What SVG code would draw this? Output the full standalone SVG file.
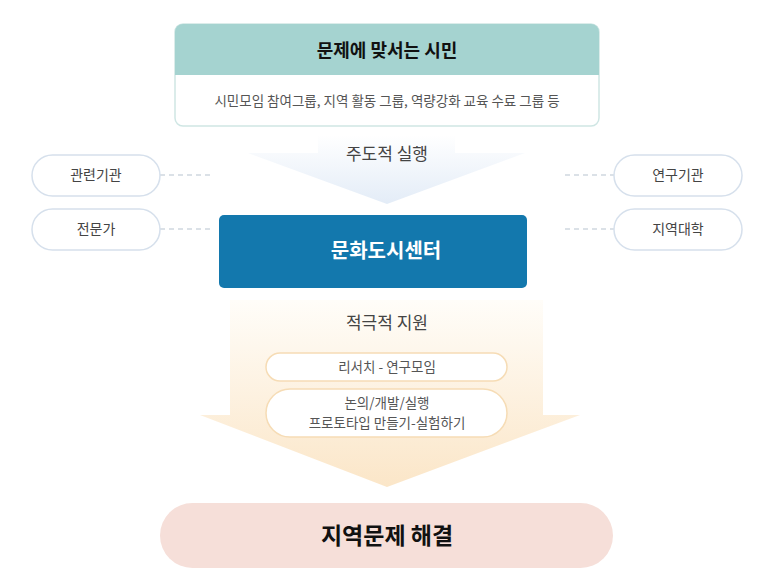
<svg xmlns="http://www.w3.org/2000/svg" width="773" height="575" viewBox="0 0 773 575">
<defs>
<linearGradient id="gb" x1="0" y1="0" x2="0" y2="1"><stop offset="0" stop-color="#ffffff"/><stop offset="1" stop-color="#e3ecf7"/></linearGradient>
<linearGradient id="go" x1="0" y1="0" x2="0" y2="1"><stop offset="0" stop-color="#fffdf9"/><stop offset="1" stop-color="#fbe6c8"/></linearGradient>
<style>
text{font-family:"Noto Sans CJK KR","Noto Sans",sans-serif;text-anchor:middle}
.side rect{fill:#fff;stroke:#d6e0ec;stroke-width:1.5}
.side text{font-size:14px;fill:#444}
.in rect{fill:#fff;stroke:#f6dcb5;stroke-width:1.5}
.in text{font-size:13.5px;fill:#555}
.dash{stroke:#b8c4d0;stroke-width:1.2;stroke-dasharray:5 4;fill:none}
</style>
</defs>
<rect width="773" height="575" fill="#fff"/>
<polygon points="318,135 455,135 455,153 525,153 387,204 248,153 318,153" fill="url(#gb)"/>
<polygon points="230,300 543,300 543,415 580,415 387,487 200,415 230,415" fill="url(#go)"/>
<g id="connectors">
<line class="dash" x1="160" y1="175" x2="210" y2="175"/>
<line class="dash" x1="160" y1="229" x2="210" y2="229"/>
<line class="dash" x1="565" y1="175" x2="614" y2="175"/>
<line class="dash" x1="565" y1="229" x2="614" y2="229"/>
</g>
<g id="citizens">
<rect x="175" y="24" width="424" height="102" rx="8" fill="#fff" stroke="#cfe6e4" stroke-width="1.5"/>
<path d="M175,75 V32 a8,8 0 0 1 8,-8 H591 a8,8 0 0 1 8,8 V75 Z" fill="#a5d3d0"/>
<text x="387" y="57" font-size="18" font-weight="bold" fill="#111">문제에 맞서는 시민</text>
<text x="387" y="106" font-size="13.5" fill="#555">시민모임 참여그룹, 지역 활동 그룹, 역량강화 교육 수료 그룹 등</text>
</g>
<text x="387" y="160" font-size="17" fill="#444">주도적 실행</text>
<g id="n1" class="side"><rect x="32" y="155" width="128" height="41" rx="20.5"/><text x="96" y="180">관련기관</text></g>
<g id="n2" class="side"><rect x="32" y="209" width="128" height="41" rx="20.5"/><text x="96" y="234">전문가</text></g>
<g id="n3" class="side"><rect x="614" y="155" width="128" height="41" rx="20.5"/><text x="678" y="180">연구기관</text></g>
<g id="n4" class="side"><rect x="614" y="209" width="128" height="41" rx="20.5"/><text x="678" y="234">지역대학</text></g>
<g id="center"><rect x="219" y="215" width="308" height="73" rx="5" fill="#1378ad"/><text x="386" y="258" font-size="20" font-weight="bold" fill="#fff">문화도시센터</text></g>
<text x="387" y="329" font-size="17" fill="#444">적극적 지원</text>
<g id="r1" class="in"><rect x="266" y="353" width="241" height="28" rx="14"/><text x="387" y="372">리서치 - 연구모임</text></g>
<g id="r2" class="in"><rect x="266" y="389" width="241" height="48" rx="24"/><text x="387" y="408">논의/개발/실행</text><text x="387" y="428">프로토타입 만들기-실험하기</text></g>
<g id="result"><rect x="160" y="503" width="453" height="65" rx="32.5" fill="#f6dfd9"/><text x="387" y="544" font-size="23" font-weight="bold" fill="#111">지역문제 해결</text></g>
</svg>
